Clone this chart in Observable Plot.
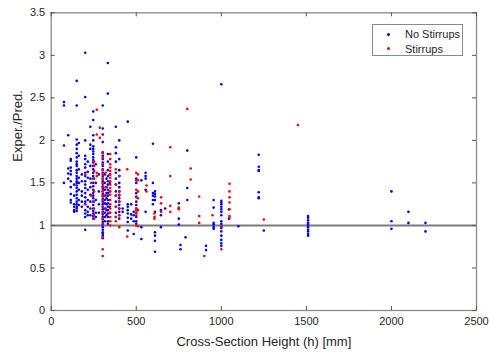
<!DOCTYPE html>
<html>
<head>
<meta charset="utf-8">
<script src="https://cdn.jsdelivr.net/npm/d3@7"></script>
<script src="https://cdn.jsdelivr.net/npm/@observablehq/plot@0.6"></script>
<style>
  html, body { margin: 0; padding: 0; background: #fff; }
  #wrap { position: relative; width: 489px; height: 353px; font-family: "Liberation Sans", Arial, sans-serif; }
  #legend { position: absolute; left: 372px; top: 24px; width: 91px; height: 32px; border: 1px solid #8a8a8a; background: #fff; box-sizing: border-box; font-size: 11px; color: #262626; }
  #legend .row { position: absolute; left: 0; height: 14px; line-height: 14px; }
  #legend .dot { position: absolute; left: 14px; top: 5.5px; width: 3px; height: 3px; border-radius: 50%; }
  #legend .lbl { position: absolute; left: 32px; white-space: nowrap; }
</style>
</head>
<body>
<div id="wrap"></div>
<script>
// Cross-section height (mm) -> list of Exper./Pred. ratios, one group per column of dots
const noStirrups = [
  [75, [2.45, 2.41, 1.94, 1.50]],
  [100, [2.06, 1.67, 1.61, 1.55]],
  [115, [1.78, 1.76, 1.68, 1.64, 1.60, 1.52, 1.45, 1.37, 1.30, 1.27]],
  [135, [1.48, 1.35, 1.25, 1.22, 1.16, 1.18]],
  [150, [2.70, 2.41, 2.01, 1.95, 1.90, 1.85, 1.80, 1.75, 1.72, 1.70, 1.65, 1.62, 1.58, 1.55, 1.52, 1.50, 1.47, 1.44, 1.40, 1.36, 1.32, 1.28, 1.25, 1.22, 1.20, 1.17]],
  [162, [1.97, 1.82, 1.66, 1.56, 1.50, 1.42, 1.30, 1.24]],
  [180, [1.60, 1.52, 1.40, 1.35, 1.28, 1.22]],
  [200, [3.03, 2.51, 2.00, 1.82, 1.78, 1.72, 1.68, 1.62, 1.58, 1.52, 1.48, 1.44, 1.38, 1.33, 1.28, 1.25, 1.18, 1.14, 1.10, 0.95]],
  [215, [1.75, 1.63, 1.56, 1.42, 1.30, 1.22, 1.16, 1.12]],
  [230, [2.16, 1.95, 1.90, 1.70, 1.55, 1.45, 1.36, 1.28, 1.20, 1.12]],
  [247, [2.34, 2.24, 2.06, 2.00, 1.93, 1.90, 1.87, 1.84, 1.80, 1.77, 1.74, 1.70, 1.66, 1.62, 1.58, 1.55, 1.50, 1.46, 1.42, 1.38, 1.35, 1.32, 1.28, 1.24, 1.20, 1.17, 1.14, 1.11, 1.08]],
  [262, [1.72, 1.50, 1.30, 1.15, 1.10]],
  [280, [1.60, 1.40, 1.25, 1.15]],
  [303, [2.41, 2.14, 2.07, 1.98, 1.86, 1.82, 1.78, 1.74, 1.70, 1.66, 1.62, 1.58, 1.55, 1.52, 1.49, 1.46, 1.43, 1.40, 1.37, 1.34, 1.31, 1.28, 1.25, 1.22, 1.19, 1.16, 1.13, 1.10, 1.07, 1.04, 1.01, 0.98, 0.95, 0.92, 0.90, 0.88, 0.85]],
  [315, [1.60, 1.50, 1.42, 1.35, 1.30, 1.26, 1.20, 1.15, 1.10, 1.05]],
  [325, [1.55, 1.45, 1.38, 1.32, 1.25, 1.18, 1.12]],
  [333, [2.91, 2.55, 1.84, 1.75, 1.65, 1.58, 1.52, 1.48, 1.42, 1.38, 1.35, 1.30, 1.26, 1.22, 1.18, 1.14, 1.10, 1.05, 1.02]],
  [345, [1.60, 1.50, 1.40, 1.30, 1.22, 1.15]],
  [380, [2.16, 1.92, 1.85, 1.75, 1.62, 1.55, 1.48, 1.40, 1.35, 1.28, 1.22, 1.15, 1.10]],
  [400, [2.00, 1.78, 1.65, 1.58, 1.50, 1.45, 1.40, 1.36, 1.32, 1.28, 1.24, 1.20, 1.16, 1.12, 1.08]],
  [420, [1.20, 1.16]],
  [450, [2.22, 1.25, 1.22, 1.18, 1.14, 1.09, 1.04, 0.94]],
  [470, [1.25, 1.13, 1.08]],
  [485, [1.16, 1.12, 1.05, 0.90]],
  [500, [1.80, 1.55, 1.50, 1.38, 1.34, 1.28, 1.24, 1.20, 1.15, 1.10, 1.05, 1.02]],
  [530, [1.53, 0.98, 0.84]],
  [555, [1.62, 1.58, 1.55, 1.42, 1.16]],
  [598, [1.96, 1.50, 1.38, 1.35, 1.30, 1.25]],
  [610, [1.40, 1.37, 1.34, 1.30, 1.16, 0.92, 0.88, 0.82, 0.69]],
  [645, [1.18, 1.12, 0.98]],
  [670, [1.20]],
  [750, [1.26, 1.20, 1.08, 1.01]],
  [760, [0.77, 0.72]],
  [790, [0.86]],
  [800, [1.88, 1.44, 1.30]],
  [910, [0.76, 0.71]],
  [955, [1.30, 1.21, 1.03, 1.01, 0.98, 0.96]],
  [1000, [2.66, 1.29, 1.27, 1.25, 1.22, 1.19, 1.16, 1.12, 1.05, 1.02, 0.99, 0.97, 0.93, 0.88, 0.83, 0.79, 0.76]],
  [1045, [1.19, 1.08]],
  [1100, [0.99]],
  [1220, [1.83, 1.69, 1.65, 1.64, 1.39, 1.33, 1.32]],
  [1250, [0.94]],
  [1510, [1.11, 1.09, 1.06, 1.03, 1.01, 0.98, 0.95, 0.93, 0.90, 0.88]],
  [2000, [1.40, 1.05, 0.96]],
  [2100, [1.16, 1.03]],
  [2200, [1.03, 0.93]]
];
const stirrups = [
  [200, [1.60, 1.25]],
  [235, [1.50, 1.35]],
  [252, [1.75, 1.70, 1.64, 1.55, 1.40, 1.28, 1.20, 1.12, 1.08]],
  [268, [2.36, 2.07, 1.62, 1.58]],
  [286, [2.15, 2.03]],
  [303, [1.85, 1.80, 1.72, 1.65, 1.60, 1.55, 1.50, 1.45, 1.40, 1.35, 1.30, 1.22, 1.15, 1.08, 1.02, 0.86, 0.72, 0.64]],
  [320, [1.62, 1.45, 1.35, 1.20]],
  [347, [1.84, 1.78, 1.72, 1.68, 1.64, 1.60, 1.56, 1.52, 1.48, 1.44, 1.40, 1.36, 1.30, 1.25, 1.20, 1.15, 1.10, 1.05, 1.00]],
  [380, [1.66, 1.48, 1.35, 1.22, 1.10, 1.05]],
  [400, [1.58, 1.40, 1.35, 1.28, 1.20, 1.12, 0.98]],
  [447, [1.66, 0.87]],
  [500, [1.62, 1.53, 1.42, 1.33, 1.20, 1.18, 1.15, 1.12, 1.00]],
  [510, [1.60, 1.53, 1.40, 1.32, 1.18, 0.99]],
  [560, [1.47, 1.40]],
  [607, [1.14, 1.10, 1.08]],
  [646, [1.33, 1.26, 1.16]],
  [700, [1.92, 1.58, 1.23, 1.16]],
  [750, [1.21, 1.19]],
  [800, [2.37]],
  [820, [1.67, 1.54]],
  [870, [1.34, 1.11, 1.03]],
  [900, [0.64]],
  [948, [1.12]],
  [1000, [0.99, 0.72]],
  [1048, [1.49, 1.40, 1.33, 1.27, 1.19, 1.11, 1.09]],
  [1250, [1.07]],
  [1450, [2.18]]
];
const xTicks = [0, 500, 1000, 1500, 2000, 2500];
const yTicks = [0, 0.5, 1, 1.5, 2, 2.5, 3, 3.5];
const referenceRatio = [1];
const seriesNames = ["No Stirrups", "Stirrups"];
const seriesColors = ["#0000ff", "#ff0000"];

const flatten = (groups, name) => groups.flatMap(([h, rs]) => rs.map(r => ({h, r, s: name})));
const points = [...flatten(noStirrups, seriesNames[0]), ...flatten(stirrups, seriesNames[1])];

const W = 489, H = 353;
const mL = 50.7, mR = 13, mT = 12.3, mB = 43;
const innerH = H - mT - mB, innerW = W - mL - mR;
const tk = 4;

const chart = Plot.plot({
  width: W, height: H,
  marginLeft: mL, marginRight: mR, marginTop: mT, marginBottom: mB,
  style: { fontFamily: "Liberation Sans, Arial, sans-serif", fontSize: "11px", color: "#262626", background: "#fff" },
  x: { domain: [0, 2500], ticks: xTicks, label: null },
  y: { domain: [0, 3.5], ticks: yTicks, label: null },
  color: { domain: seriesNames, range: seriesColors },
  marks: [
    Plot.ruleY(referenceRatio, { stroke: "#7a7a7a", strokeWidth: 2 }),
    Plot.dot(points, { x: "h", y: "r", fill: "s", r: 1.3, stroke: null }),
    Plot.frame({ stroke: "#8a8a8a", strokeWidth: 1.3 }),
    Plot.tickX(xTicks, { x: d => d, stroke: "#555", insetTop: innerH - tk }),
    Plot.tickX(xTicks, { x: d => d, stroke: "#555", insetBottom: innerH - tk }),
    Plot.tickY(yTicks, { y: d => d, stroke: "#555", insetRight: innerW - tk }),
    Plot.tickY(yTicks, { y: d => d, stroke: "#555", insetLeft: innerW - tk }),
    Plot.axisX(xTicks, { tickSize: 0, tickPadding: 7, fontSize: 11, fill: "#262626", tickFormat: d => String(d) }),
    Plot.axisY(yTicks, { tickSize: 0, tickPadding: 6, fontSize: 11, fill: "#262626", tickFormat: d => String(d) }),
    Plot.text(["Cross-Section Height (h) [mm]"], { frameAnchor: "bottom", dy: 35, fontSize: 13, fill: "#262626" }),
    Plot.text(["Exper./Pred."], { frameAnchor: "left", dx: -33, rotate: -90, fontSize: 13, fill: "#262626" })
  ]
});

const wrap = document.getElementById("wrap");
wrap.appendChild(chart);
const legend = document.createElement("div");
legend.id = "legend";
seriesNames.forEach((name, i) => {
  const row = document.createElement("div");
  row.className = "row";
  row.style.top = (2 + i * 14.5) + "px";
  row.style.width = "100%";
  const dot = document.createElement("span");
  dot.className = "dot";
  dot.style.background = seriesColors[i];
  const lbl = document.createElement("span");
  lbl.className = "lbl";
  lbl.textContent = name;
  row.appendChild(dot); row.appendChild(lbl);
  legend.appendChild(row);
});
wrap.appendChild(legend);
</script>
</body>
</html>
